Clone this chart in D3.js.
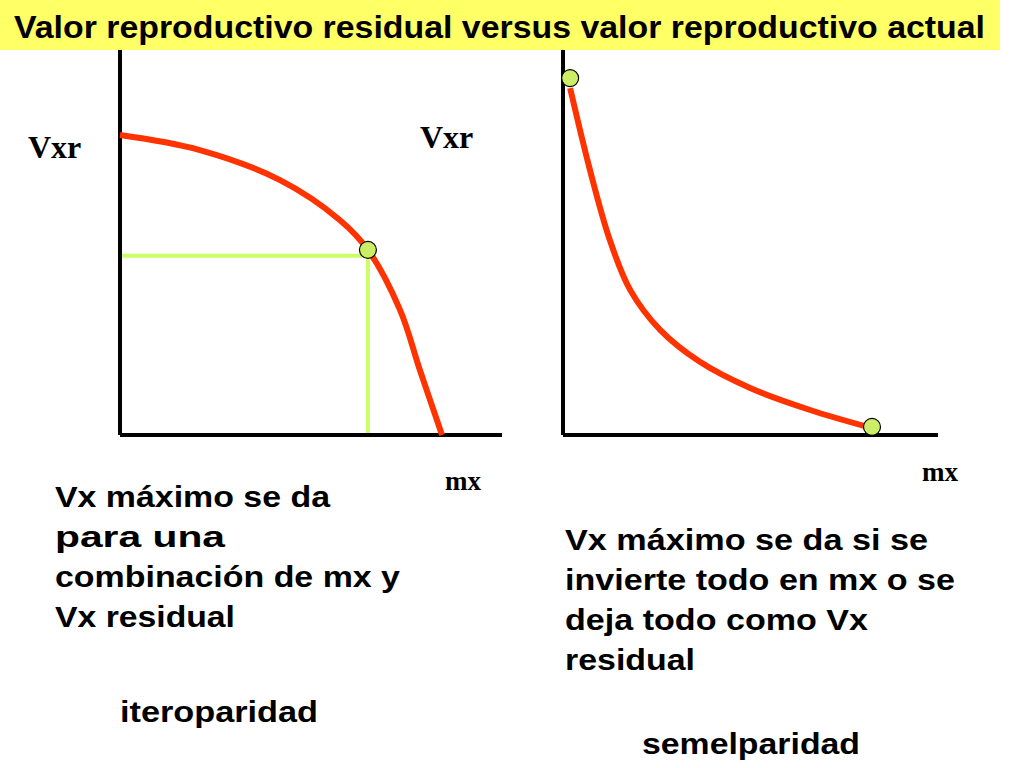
<!DOCTYPE html><html><head><meta charset="utf-8">
<script src="https://cdn.jsdelivr.net/npm/d3@7"></script>
<style>body{margin:0;background:#fff}</style></head><body>
<svg id="c" width="1024" height="768"></svg>
<script>
const title = "Valor reproductivo residual versus valor reproductivo actual";
const leftCurveX = [0, 2.09, 4.19, 5.76, 6.49, 7.33, 7.85, 8.43];
const leftCurveY = [7.79, 7.40, 6.62, 5.58, 4.81, 3.25, 1.69, 0];
const leftPoint = [[6.49, 4.81]];
const rightCurveX = [0.19, 0.72, 1.25, 1.79, 2.59, 3.65, 4.99, 6.59, 8.24];
const rightCurveY = [9.01, 6.88, 5.06, 3.77, 2.73, 1.90, 1.22, 0.65, 0.18];
const rightPoints = [[0.19, 9.27], [8.24, 0.21]];
const leftText = ["Vx máximo se da", "para una", "combinación de mx y", "Vx residual"];
const rightText = ["Vx máximo se da si se", "invierte todo en mx o se", "deja todo como Vx", "residual"];
const leftWidths = [275, 170, 345, 180];
const rightWidths = [363, 390, 303, 130];

const svg = d3.select("#c");
svg.append("rect").attr("x",0).attr("y",0).attr("width",1000).attr("height",50).attr("fill","#ffff66");
svg.append("text").attr("x",14).attr("y",38).text(title).attr("textLength",971).attr("lengthAdjust","spacingAndGlyphs")
  .attr("font-family","Liberation Sans, Arial").attr("font-weight","bold").attr("font-size",31);

function panel(x0,x1,curveX,curveY,points,guides){
  const x=d3.scaleLinear().domain([0,10]).range([x0,x1]);
  const y=d3.scaleLinear().domain([0,10]).range([435,50]);
  const g=svg.append("g");
  g.append("line").attr("x1",x(0)).attr("x2",x(0)).attr("y1",y(10)).attr("y2",y(0)).attr("stroke","#000").attr("stroke-width",4);
  g.append("line").attr("x1",x(0)).attr("x2",x(10)).attr("y1",y(0)).attr("y2",y(0)).attr("stroke","#000").attr("stroke-width",4);
  if(guides){
    const p=points[0];
    g.append("line").attr("x1",x(0)+2).attr("x2",x(p[0])).attr("y1",y(p[1])+6).attr("y2",y(p[1])+6).attr("stroke","#ccff66").attr("stroke-width",4);
    g.append("line").attr("x1",x(p[0])).attr("x2",x(p[0])).attr("y1",y(p[1])+6).attr("y2",y(0)-2).attr("stroke","#ccff66").attr("stroke-width",4);
  }
  const pts=curveX.map((v,i)=>[v,curveY[i]]);
  g.append("path").attr("d",d3.line().x(d=>x(d[0])).y(d=>y(d[1])).curve(d3.curveCatmullRom)(pts))
    .attr("fill","none").attr("stroke","#ff3300").attr("stroke-width",6);
  g.selectAll("circle").data(points).join("circle").attr("cx",d=>x(d[0])).attr("cy",d=>y(d[1])).attr("r",8.5)
    .attr("fill","#ccee66").attr("stroke","#000").attr("stroke-width",1.2);
}
panel(120,502,leftCurveX,leftCurveY,leftPoint,true);
panel(563,938,rightCurveX,rightCurveY,rightPoints,false);

const serif={"font-family":"Liberation Serif, Times New Roman","font-weight":"bold","font-size":32};
function t(x,y,s,a,fs,w){const e=svg.append("text").attr("x",x).attr("y",y).text(s);for(const k in a)e.attr(k,a[k]);if(fs)e.attr("font-size",fs);if(w)e.attr("textLength",w).attr("lengthAdjust","spacingAndGlyphs");return e;}
svg.append("rect").attr("x",110).attr("y",120).attr("width",8).attr("height",50).attr("fill","#fff");
t(28,158,"Vxr",serif);t(420,148,"Vxr",serif);t(445,490,"mx",serif,27);t(922,481,"mx",serif,27);
const sans={"font-family":"Liberation Sans, Arial","font-weight":"bold","font-size":29};
leftText.forEach((s,i)=>t(55,507+i*40,s,sans,null,leftWidths[i]));
rightText.forEach((s,i)=>t(565,550+i*40,s,sans,null,rightWidths[i]));
t(120,722,"iteroparidad",sans,null,198);t(642,754,"semelparidad",sans,null,218);
</script></body></html>
